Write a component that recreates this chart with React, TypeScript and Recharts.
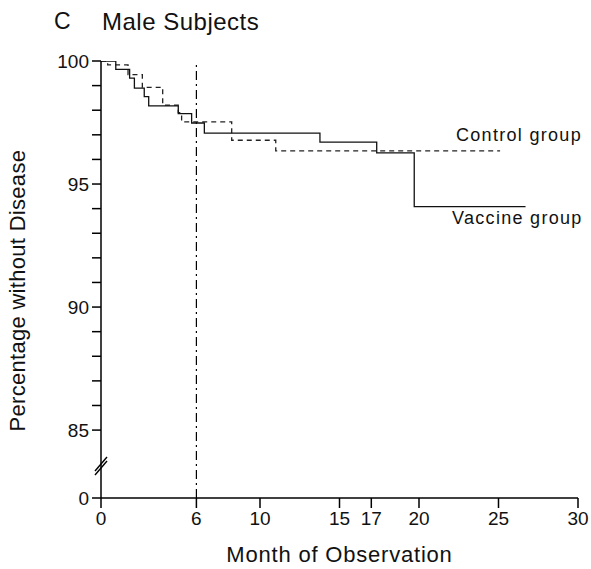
import { LineChart, Line, XAxis, YAxis, ReferenceLine, ReferenceDot } from "recharts";

// Kaplan-Meier steps (month, % without disease)
const vaccineMonths = [0, 0.93, 1.8, 2.1, 2.72, 3.0, 4.86, 5.7, 6.5, 13.77, 17.34, 19.7, 26.7];
const vaccineValues = [100, 99.66, 99.3, 98.9, 98.55, 98.18, 97.86, 97.48, 97.07, 96.7, 96.27, 94.08, 94.08];

const controlMonths = [0, 0.42, 1.7, 2.6, 3.88, 4.86, 5.07, 8.22, 10.99, 25.1];
const controlValues = [100, 99.84, 99.45, 98.93, 98.21, 97.9, 97.53, 96.78, 96.35, 96.35];

const xTicks = [0, 6, 10, 15, 17, 20, 25, 30];
// broken axis: the bottom of the scale stands for 0
const Y_ZERO = 82.24;
const yTicks = [Y_ZERO, 85, 86, 87, 88, 89, 90, 91, 92, 93, 94, 95, 96, 97, 98, 99, 100];
const yLabelled = [85, 90, 95, 100];

const FONT = "'Liberation Sans', Arial, sans-serif";

const vaccineData = vaccineMonths.map((m, i) => ({ month: m, value: vaccineValues[i] }));
const controlData = controlMonths.map((m, i) => ({ month: m, value: controlValues[i] }));

function formatYTick(v: number): string {
  if (v === Y_ZERO) return "0";
  return yLabelled.includes(v) ? String(v) : "";
}

function AxisBreak({ cx, cy }: { cx?: number; cy?: number }) {
  if (cx == null || cy == null) return null;
  return (
    <g>
      <line x1={cx - 6} y1={cy + 6} x2={cx + 6} y2={cy - 8} stroke="#000" strokeWidth={1.4} />
      <line x1={cx - 6} y1={cy + 10} x2={cx + 6} y2={cy - 4} stroke="#000" strokeWidth={1.4} />
    </g>
  );
}

const textStyle = { position: "absolute" as const, color: "#111", whiteSpace: "nowrap" as const };

export default function App() {
  return (
    <div style={{ position: "absolute", left: 0, top: 0, width: 591, height: 569, background: "#fff", fontFamily: FONT }}>
      <div style={{ ...textStyle, left: 54, top: 8, fontSize: 23 }}>C</div>
      <div style={{ ...textStyle, left: 102, top: 8, fontSize: 24, letterSpacing: 0.5 }}>Male Subjects</div>
      <div style={{ ...textStyle, left: 456, top: 125, fontSize: 18, letterSpacing: 1.3 }}>Control group</div>
      <div style={{ ...textStyle, left: 452, top: 208, fontSize: 18, letterSpacing: 1.3 }}>Vaccine group</div>
      <LineChart
        width={591}
        height={569}
        margin={{ top: 61, right: 13, bottom: 31, left: 41 }}
      >
        <XAxis
          type="number"
          dataKey="month"
          domain={[0, 30]}
          ticks={xTicks}
          interval={0}
          allowDataOverflow
          axisLine={{ stroke: "#000", strokeWidth: 1.5 }}
          tickLine={{ stroke: "#000", strokeWidth: 1.5 }}
          tickSize={10}
          tickMargin={4}
          height={40}
          tick={{ fill: "#111", fontSize: 19, fontFamily: FONT }}
          label={{ value: "Month of Observation", position: "insideBottom", offset: -24, fill: "#111", fontSize: 22, letterSpacing: 0.8, fontFamily: FONT }}
        />
        <YAxis
          type="number"
          domain={[Y_ZERO, 100]}
          ticks={yTicks}
          interval={0}
          allowDataOverflow
          axisLine={{ stroke: "#000", strokeWidth: 1.5 }}
          tickLine={{ stroke: "#000", strokeWidth: 1.5 }}
          tickSize={9}
          tickMargin={3}
          width={60}
          tickFormatter={formatYTick}
          tick={{ fill: "#111", fontSize: 19, fontFamily: FONT }}
          label={{ value: "Percentage without Disease", angle: -90, position: "insideLeft", offset: -24, dy: 152, fill: "#111", fontSize: 22, letterSpacing: 0.3, fontFamily: FONT }}
        />
        <ReferenceLine x={6} stroke="#000" strokeWidth={1.2} strokeDasharray="9 4 2 4" />
        <Line
          data={controlData}
          dataKey="value"
          type="stepAfter"
          stroke="#222"
          strokeWidth={1.3}
          strokeDasharray="5 4"
          dot={false}
          isAnimationActive={false}
        />
        <Line
          data={vaccineData}
          dataKey="value"
          type="stepAfter"
          stroke="#111"
          strokeWidth={1.3}
          dot={false}
          isAnimationActive={false}
        />
        <ReferenceDot x={0} y={83.58} r={0} ifOverflow="visible" shape={(p: any) => <AxisBreak cx={p.cx} cy={p.cy} />} />
      </LineChart>
    </div>
  );
}
